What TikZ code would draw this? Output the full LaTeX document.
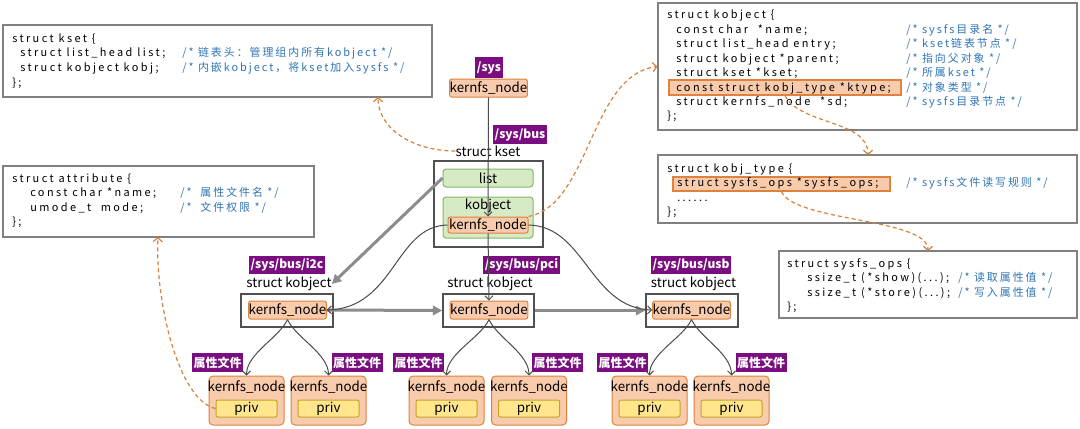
\documentclass[tikz,border=0pt]{standalone}
\usepackage{fontspec}
\setmainfont{Noto Sans CJK SC}
\newfontfamily\codefam[LetterSpace=22]{Noto Sans CJK SC}
\newfontfamily\cmtfam[LetterSpace=18]{Noto Sans CJK SC}
\usetikzlibrary{arrows.meta}
\newdimen\upx \upx=0.75pt
\definecolor{purp}{RGB}{122,14,128}
\definecolor{knfill}{RGB}{248,203,173}
\definecolor{knline}{RGB}{222,130,62}
\definecolor{grfill}{RGB}{214,234,198}
\definecolor{grline}{RGB}{130,185,100}
\definecolor{pvfill}{RGB}{255,230,140}
\definecolor{pvline}{RGB}{200,160,40}
\definecolor{cmtblue}{RGB}{46,117,182}
\definecolor{boxgray}{RGB}{128,128,128}
\definecolor{contgray}{RGB}{80,80,80}
\definecolor{thing}{RGB}{75,75,75}
\definecolor{thickg}{RGB}{140,140,140}
\definecolor{dashor}{RGB}{215,130,60}
\newcommand\mycode{\codefam\fontsize{8.2}{10}\selectfont}
\newcommand\mycmt{\cmtfam\fontsize{8.2}{10}\selectfont}
\newcommand\mylbl{\fontsize{10}{12}\selectfont}
\newcommand\mypath{\fontsize{9}{11}\selectfont\bfseries}
\newcommand\mycjklbl{\fontsize{9}{11}\selectfont\bfseries}
\begin{document}
\begin{tikzpicture}[x=0.75pt,y=-0.75pt,
 codebox/.style={draw=boxgray,line width=1.2\upx,inner sep=0},
 cont/.style={draw=contgray,line width=1.5\upx,inner sep=0},
 codetxt/.style={anchor=base west,inner sep=0,font=\mycode},
 cmttxt/.style={anchor=base west,inner sep=0,font=\mycmt,text=cmtblue},
 hlbox/.style={draw=knline,fill=knfill,line width=1.2\upx,inner sep=0},
 knbox/.style={draw=knline,fill=knfill,line width=1\upx,rounded corners=2\upx,inner sep=0,minimum height=18\upx,font=\mylbl},
 plabel/.style={fill=purp,text=white,font=\mypath,inner xsep=1.5\upx,inner ysep=0,minimum height=19\upx},
 ttl/.style={font=\mylbl,inner sep=0},
 grnbox/.style={draw=grline,fill=grfill,line width=1\upx,rounded corners=3\upx,inner sep=0},
 abox/.style={draw=knline,fill=knfill,line width=1\upx,rounded corners=4\upx,inner sep=0,minimum width=75\upx,minimum height=49\upx},
 pvbox/.style={draw=pvline,fill=pvfill,line width=1\upx,rounded corners=2\upx,inner sep=0,minimum width=61\upx,minimum height=17\upx,font=\mylbl},
 thinarrow/.style={draw=thing,line width=1\upx,-{Straight Barb[length=3pt,width=6pt]}},
 thickarrow/.style={draw=thickg,line width=3\upx,-{Triangle[length=7pt,width=7pt]}},
 dsharrow/.style={draw=dashor,line width=1.2\upx,dash pattern=on 4\upx off 3\upx,-{Straight Barb[length=3pt,width=7pt]}}
]
\useasboundingbox (0,0) rectangle (1080,428);
\fill[white] (0,0) rectangle (1080,428);

% ---------- code boxes ----------
\node[codebox,minimum width=429\upx,minimum height=72\upx] (kcbox) at (217.5,61) {};
\node[codetxt] (kc1) at (12,42.5) {struct kset \{};
\node[codetxt] (kc2) at (20,57) {struct list\_head list;};
\node[cmttxt] (kc2c) at (182,57) {/* 链表头：管理组内所有kobject */};
\node[codetxt] (kc3) at (20,71.5) {struct kobject kobj;};
\node[cmttxt] (kc3c) at (182,71.5) {/* 内嵌kobject，将kset加入sysfs */};
\node[codetxt] (kc4) at (12,86) {\};};

\node[codebox,minimum width=419\upx,minimum height=127\upx] (kobox) at (867.5,66.5) {};
\node[hlbox,minimum width=232\upx,minimum height=15\upx] (ktyhl) at (785,87.5) {};
\node[codetxt] (ko1) at (667,19) {struct kobject \{};
\node[codetxt] (ko2) at (676,33.4) {const char\ \ *name;};
\node[cmttxt] (ko2c) at (906,33.4) {/* sysfs目录名 */};
\node[codetxt] (ko3) at (676,47.8) {struct list\_head entry;};
\node[cmttxt] (ko3c) at (906,47.8) {/* kset链表节点 */};
\node[codetxt] (ko4) at (676,62.2) {struct kobject *parent;};
\node[cmttxt] (ko4c) at (906,62.2) {/* 指向父对象 */};
\node[codetxt] (ko5) at (676,76.6) {struct kset *kset;};
\node[cmttxt] (ko5c) at (906,76.6) {/* 所属kset */};
\node[codetxt] (ko6) at (676,91) {const struct kobj\_type *ktype;};
\node[cmttxt] (ko6c) at (906,91) {/* 对象类型 */};
\node[codetxt] (ko7) at (676,105.4) {struct kernfs\_node\ \ *sd;};
\node[cmttxt] (ko7c) at (906,105.4) {/* sysfs目录节点 */};
\node[codetxt] (ko8) at (667,119.8) {\};};

\node[codebox,minimum width=419\upx,minimum height=68\upx] (ktbox) at (867.5,189) {};
\node[hlbox,minimum width=217\upx,minimum height=14\upx] (sohl) at (781.5,184) {};
\node[codetxt] (kt1) at (667,172) {struct kobj\_type \{};
\node[codetxt] (kt2) at (677,186.5) {struct sysfs\_ops *sysfs\_ops;};
\node[cmttxt] (kt2c) at (906,186.5) {/* sysfs文件读写规则 */};
\node[codetxt] (kt3) at (677,201) {......};
\node[codetxt] (kt4) at (667,215.5) {\};};

\node[codebox,minimum width=298\upx,minimum height=67\upx] (sobox) at (928,284.5) {};
\node[codetxt] (so1) at (787,267) {struct sysfs\_ops \{};
\node[codetxt] (so2) at (807,281.5) {ssize\_t (*show)(...);};
\node[cmttxt] (so2c) at (958,281.5) {/* 读取属性值 */};
\node[codetxt] (so3) at (807,296) {ssize\_t (*store)(...);};
\node[cmttxt] (so3c) at (958,296) {/* 写入属性值 */};
\node[codetxt] (so4) at (787,310.5) {\};};

\node[codebox,minimum width=311\upx,minimum height=71\upx] (atbox) at (158.5,201.5) {};
\node[codetxt] (at1) at (12,182) {struct attribute \{};
\node[codetxt] (at2) at (30,196.5) {const char *name;};
\node[cmttxt] (at2c) at (180,196.5) {/*\ \ 属性文件名 */};
\node[codetxt] (at3) at (30,211) {umode\_t\ \ mode;};
\node[cmttxt] (at3c) at (180,211) {/*\ \ 文件权限 */};
\node[codetxt] (at4) at (12,225.5) {\};};

% ---------- central structure ----------
\node[plabel,minimum height=20\upx] (syslab) at (489,67.5) {/sys};
\node[knbox,minimum width=75\upx] (sysnode) at (488.5,88) {kernfs\_node};
\node[plabel] (buslab) at (520,134.5) {/sys/bus};
\node[ttl] (ksettitle) at (488,151) {struct kset};
\node[cont,minimum width=109\upx,minimum height=86\upx] (ksetbox) at (488.5,204) {};
\node[grnbox,minimum width=90\upx,minimum height=18\upx,font=\mylbl] (listbox) at (488,178) {list};
\node[grnbox,minimum width=90\upx,minimum height=41\upx] (kobjbox) at (488,217.5) {};
\node[ttl] (kobjt) at (488,206) {kobject};
\node[knbox,minimum width=80\upx,minimum height=16\upx] (ksetkn) at (488,225) {kernfs\_node};

\node[plabel,minimum height=18\upx] (i2clab) at (287,265) {/sys/bus/i2c};
\node[ttl] (i2ctitle) at (289,284) {struct kobject};
\node[cont,minimum width=92\upx,minimum height=33\upx] (i2cbox) at (287,310.5) {};
\node[knbox,minimum width=77\upx] (i2ckn) at (287.5,310) {kernfs\_node};

\node[plabel,minimum height=18\upx] (pcilab) at (521.5,265) {/sys/bus/pci};
\node[ttl] (pcititle) at (490,284) {struct kobject};
\node[cont,minimum width=91\upx,minimum height=33\upx] (pcibox) at (488.5,310.5) {};
\node[knbox,minimum width=76\upx] (pcikn) at (489,310) {kernfs\_node};

\node[plabel,minimum height=18\upx] (usblab) at (691,265) {/sys/bus/usb};
\node[ttl] (usbtitle) at (693.5,284) {struct kobject};
\node[cont,minimum width=92\upx,minimum height=33\upx] (usbbox) at (692,310.5) {};
\node[knbox,minimum width=75\upx] (usbkn) at (691.5,310) {kernfs\_node};

% ---------- attribute files ----------
\foreach \g/\p/\xa/\xb/\la/\lb in {i/i2ckn/246.5/328.5/217.5/357, p/pcikn/446.5/529/418.5/557.5, u/usbkn/649.5/731.5/622.5/761}{
  \node[abox] (\g A) at (\xa,400.5) {};
  \node[ttl] (\g At) at (\xa,387) {kernfs\_node};
  \node[pvbox] (\g Ap) at (\xa,408.5) {priv};
  \node[abox] (\g B) at (\xb,400.5) {};
  \node[ttl] (\g Bt) at (\xb,387) {kernfs\_node};
  \node[pvbox] (\g Bp) at (\xb,408.5) {priv};
  \node[plabel,font=\mycjklbl] (\g La) at (\la,362.5) {属性文件};
  \node[plabel,font=\mycjklbl] (\g Lb) at (\lb,362.5) {属性文件};
  \draw[thinarrow] (\p.south) .. controls +(-8,18) and +(0,-22) .. (\g A.north);
  \draw[thinarrow] (\p.south) .. controls +(8,18) and +(0,-22) .. (\g B.north);
}

% ---------- connectors ----------
\draw[thinarrow] (sysnode.south) -- (ksetkn.north);
\draw[thinarrow] (ksetkn.south) -- (pcikn.north);
\draw[thickarrow] (listbox.west) -- (i2ctitle.east);
\draw[thickarrow] (i2ckn.east) -- (pcibox.west);
\draw[thickarrow] (pcibox.east) -- (usbbox.west);
\draw[thinarrow] (ksetkn.west) .. controls (395,226) and (395,308) .. (i2ckn.east);
\draw[thinarrow] (ksetkn.east) .. controls (585,226) and (590,308) .. (usbkn.west);

\coordinate (ksetin) at (378,97);
\coordinate (attin) at (158,237);
\coordinate (ktin) at (868,155);
\coordinate (soin) at (928,251);
\draw[dsharrow] (ksetkn.north east) .. controls (590,205) and (590,75) .. (kobox.west);
\draw[dsharrow] (ksettitle.west) .. controls (412,151) and (378,128) .. (ksetin);
\draw[dsharrow] (ktyhl.south) .. controls (800,125) and (868,120) .. (ktin);
\draw[dsharrow] (sohl.south) .. controls (795,222) and (928,218) .. (soin);
\draw[dsharrow] (iAp.west) .. controls (178,400) and (155,300) .. (attin);
\end{tikzpicture}
\end{document}
